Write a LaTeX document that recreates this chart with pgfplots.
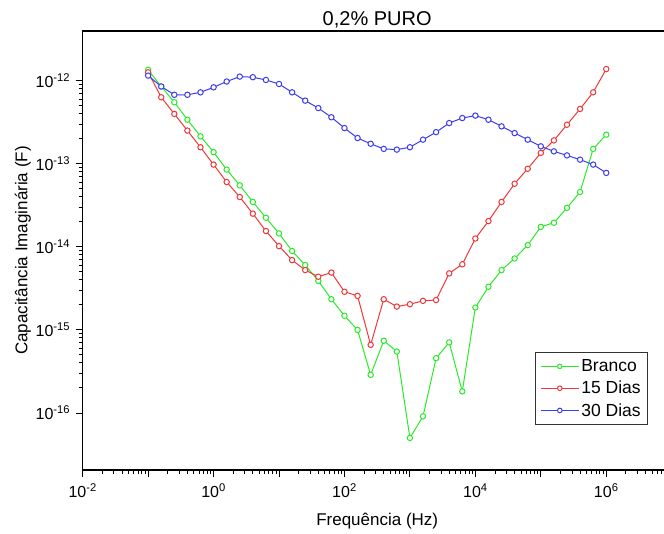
\documentclass[border=0pt]{standalone}
\usepackage{fontspec}
\setmainfont{Liberation Sans}
\usepackage{pgfplots}
\usepackage{pgfplotstable}
\pgfplotsset{compat=1.18}

\definecolor{cgreen}{RGB}{40,235,40}
\definecolor{cred}{RGB}{240,55,55}
\definecolor{cblue}{RGB}{60,60,240}

% f (Hz), Branco, 15 Dias, 30 Dias
\pgfplotstableread{
f        b         r         w
0.1      1.35e-12  1.26e-12  1.15e-12
0.1585   8.51e-13  6.31e-13  8.51e-13
0.2512   5.50e-13  3.98e-13  6.76e-13
0.3981   3.39e-13  2.51e-13  6.76e-13
0.631    2.14e-13  1.58e-13  7.24e-13
1        1.38e-13  9.77e-14  8.32e-13
1.585    8.51e-14  6.03e-14  9.77e-13
2.512    5.50e-14  3.98e-14  1.12e-12
3.981    3.47e-14  2.51e-14  1.10e-12
6.31     2.24e-14  1.55e-14  1.02e-12
10       1.45e-14  1.02e-14  9.12e-13
15.85    8.91e-15  6.92e-15  7.24e-13
25.12    6.03e-15  5.25e-15  5.75e-13
39.81    3.89e-15  4.37e-15  4.68e-13
63.1     2.34e-15  4.90e-15  3.63e-13
100      1.48e-15  2.88e-15  2.69e-13
158.5    1.00e-15  2.57e-15  2.04e-13
251.2    2.88e-16  6.61e-16  1.74e-13
398.1    7.41e-16  2.34e-15  1.51e-13
631      5.50e-16  1.91e-15  1.48e-13
1000     5.01e-17  2.04e-15  1.58e-13
1585     9.12e-17  2.24e-15  1.95e-13
2512     4.57e-16  2.29e-15  2.40e-13
3981     7.08e-16  4.79e-15  3.09e-13
6310     1.82e-16  6.17e-15  3.55e-13
10000    1.86e-15  1.26e-14  3.80e-13
15850    3.31e-15  2.04e-14  3.39e-13
25120    5.25e-15  3.47e-14  2.82e-13
39810    7.24e-15  5.75e-14  2.34e-13
63100    1.05e-14  8.71e-14  1.95e-13
100000   1.74e-14  1.35e-13  1.62e-13
158500   1.95e-14  1.91e-13  1.41e-13
251200   2.95e-14  2.95e-13  1.26e-13
398100   4.57e-14  4.57e-13  1.12e-13
631000   1.51e-13  7.24e-13  9.77e-14
1000000  2.24e-13  1.38e-12  7.76e-14
}\datatable

\begin{document}
\begin{tikzpicture}
\begin{axis}[
    scale only axis,
    width=589pt, height=439pt,
    xmode=log, ymode=log,
    xmin=1e-2, xmax=1e7,
    ymin=2.06e-17, ymax=3.96e-12,
    axis line style={line width=1.4pt},
    tick style={black, line width=1pt},
    major tick length=7pt, minor tick length=4pt,
    tick align=outside,
    xtick pos=left, ytick pos=left,
    xtick={1e-2,1e-1,1,1e1,1e2,1e3,1e4,1e5,1e6,1e7},
    xticklabels={10\textsuperscript{-2},,10\textsuperscript{0},,10\textsuperscript{2},,10\textsuperscript{4},,10\textsuperscript{6},},
    ytick={1e-16,1e-15,1e-14,1e-13,1e-12},
    yticklabels={10\textsuperscript{-16},10\textsuperscript{-15},10\textsuperscript{-14},10\textsuperscript{-13},10\textsuperscript{-12}},
    tick label style={font=\fontsize{16}{18}\selectfont},
    xticklabel style={yshift=-3pt},
    yticklabel style={xshift=-2pt},
    title={0,2\% PURO},
    title style={font=\fontsize{20}{22}\selectfont, yshift=-7pt},
    xlabel={Frequência (Hz)},
    ylabel={Capacitância Imaginária (F)},
    label style={font=\fontsize{17}{19}\selectfont},
    xlabel style={yshift=-8pt},
    ylabel style={yshift=-2pt},
    legend cell align=left,
    legend style={at={(rel axis cs:0.96,0.1025)}, anchor=south east,
        draw=black!80, line width=1pt, font=\fontsize{17.5}{20}\selectfont,
        inner xsep=5pt, inner ysep=5pt, row sep=4pt},
    legend image code/.code={%
        \draw[mark repeat=2, mark phase=2, #1]
        plot coordinates {(0pt,0pt) (19pt,0pt) (38pt,0pt)};},
    legend image post style={mark size=2.3pt},
    every axis plot/.append style={line width=1pt, mark=*, mark size=2.7pt,
        mark options={fill=white}},
]
\addplot[cgreen] table[x=f, y=b] {\datatable};
\addplot[cred]   table[x=f, y=r] {\datatable};
\addplot[cblue]  table[x=f, y=w] {\datatable};
\legend{Branco, 15 Dias, 30 Dias}
\end{axis}
\pgfresetboundingbox
\useasboundingbox (-82.7pt,-63pt) rectangle (581.3pt,470pt);
\end{tikzpicture}
\end{document}
